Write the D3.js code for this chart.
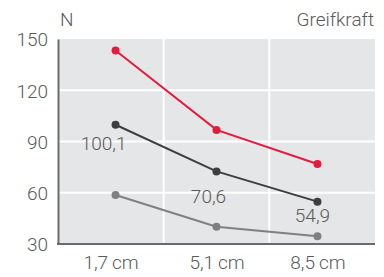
<!DOCTYPE html>
<html>
<head>
<meta charset="utf-8">
<script src="https://cdn.jsdelivr.net/npm/d3@7"></script>
<style>
  body { margin: 0; background: #fff; }
  text { font-family: Roboto, "DejaVu Sans Condensed", sans-serif; font-weight: 300; fill: #5a5a5a; font-size: 19px; }
</style>
</head>
<body>
<svg id="chart" width="384" height="277"></svg>
<script>
const categories = ["1,7\u2009cm", "5,1\u2009cm", "8,5\u2009cm"];
const yTicks = [30, 60, 90, 120, 150];
const redValues = [143.3, 96.8, 76.8];
const darkValues = [99.8, 72.5, 54.8];
const grayValues = [58.7, 40.1, 34.5];
const darkLabels = ["100,1", "70,6", "54,9"];

const svg = d3.select("#chart");
const plotLeft = 58, plotRight = 375, plotTop = 39, plotBottom = 244;

const y = d3.scaleLinear().domain([30, 150]).range([plotBottom, plotTop]);
const band = d3.scaleBand().domain(categories).range([plotLeft, plotRight]);
const x = d3.scalePoint().domain(categories).range([plotLeft, plotRight]).padding(0.57);

// plot background
svg.append("rect")
    .attr("x", plotLeft).attr("y", plotTop)
    .attr("width", plotRight - plotLeft).attr("height", plotBottom - plotTop)
    .attr("fill", "#e5e6e8");

// grid
svg.append("g").selectAll("line")
    .data(yTicks.slice(1, -1))
    .enter().append("line")
    .attr("x1", plotLeft).attr("x2", plotRight)
    .attr("y1", d => y(d)).attr("y2", d => y(d))
    .attr("stroke", "#fff").attr("stroke-width", 2);

svg.append("g").selectAll("line")
    .data(categories.slice(1))
    .enter().append("line")
    .attr("x1", d => band(d)).attr("x2", d => band(d))
    .attr("y1", plotTop).attr("y2", plotBottom)
    .attr("stroke", "#fff").attr("stroke-width", 2);

// axes
const yAxis = svg.append("g")
    .attr("transform", `translate(${plotLeft},0)`)
    .call(d3.axisLeft(y).tickValues(yTicks).tickSize(0).tickPadding(10));
yAxis.select(".domain").attr("stroke", "#6a6a6a").attr("stroke-width", 2);
yAxis.selectAll("text").attr("font-size", 19).attr("font-family", null).attr("fill", "#5a5a5a").attr("dy", "0.36em");

const xAxis = svg.append("g")
    .attr("transform", `translate(0,${plotBottom})`)
    .call(d3.axisBottom(x).tickSize(0).tickPadding(12));
xAxis.select(".domain").remove();
svg.append("line")
    .attr("x1", plotLeft - 1).attr("x2", plotRight)
    .attr("y1", plotBottom).attr("y2", plotBottom)
    .attr("stroke", "#6a6a6a").attr("stroke-width", 2);
xAxis.selectAll("text").attr("font-size", 19).attr("font-family", null).attr("fill", "#5a5a5a")
    .attr("dx", (d, i) => i === 0 ? -5 : 0);

// series
const series = [
    { values: grayValues, color: "#808080" },
    { values: darkValues, color: "#3e3e40" },
    { values: redValues, color: "#e31c3d" }
];
const line = d3.line().x((d, i) => x(categories[i])).y(d => y(d));

series.forEach(s => {
    svg.append("path")
        .attr("d", line(s.values))
        .attr("fill", "none")
        .attr("stroke", s.color)
        .attr("stroke-width", 2);
    svg.append("g").selectAll("circle")
        .data(s.values)
        .enter().append("circle")
        .attr("cx", (d, i) => x(categories[i]))
        .attr("cy", d => y(d))
        .attr("r", 4)
        .attr("fill", s.color);
});

// value labels on dark series
const labelOffsets = [[-12, 25], [-8, 32], [-5, 20]];
svg.append("g").selectAll("text")
    .data(darkValues)
    .enter().append("text")
    .attr("x", (d, i) => x(categories[i]) + labelOffsets[i][0])
    .attr("y", (d, i) => y(d) + labelOffsets[i][1])
    .attr("text-anchor", "middle")
    .text((d, i) => darkLabels[i]);

svg.append("text").attr("x", 60).attr("y", 26).text("N");
svg.append("text").attr("x", 374).attr("y", 26).attr("text-anchor", "end").text("Greifkraft");
</script>
</body>
</html>
